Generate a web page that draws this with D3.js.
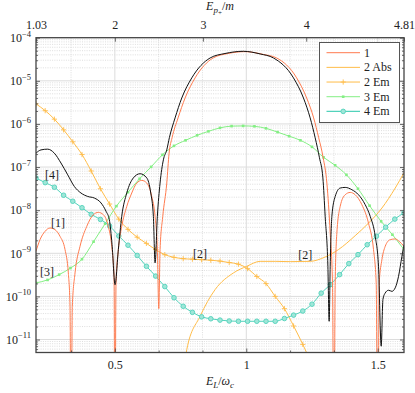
<!DOCTYPE html>
<meta charset="utf-8">
<style>
body { margin: 0; background: #fff; }
text { font-family: "Liberation Serif", "DejaVu Serif", serif; fill: #222; font-size: 12px; }
.grid-major line { stroke: #dcdcdc; stroke-width: 1; }
.grid-minor line { stroke: #c8c8c8; stroke-width: 0.6; stroke-dasharray: 1,1.3; }
.frame { fill: none; stroke: #444; stroke-width: 1.3; }
.axis path { display: none; }
.axis line { stroke: #444; stroke-width: 0.8; }
.curve { fill: none; stroke-width: 1; }
</style>
<svg width="415" height="393"></svg>
<script src="https://d3js.org/d3.v7.min.js"></script>
<script>

var svg = d3.select("svg");

// ---- data (E_L/omega_c, value) ----
var total = [
  [0.2, 2.1e-7], [0.219, 2.5e-7], [0.2445, 2.6e-7], [0.2697, 2.1e-7], [0.295, 1.24e-7],
  [0.3207, 6.6e-8], [0.3458, 3.55e-8], [0.371, 2.5e-8], [0.3968, 2.08e-8], [0.422, 1.91e-8],
  [0.4474, 1.47e-8], [0.4665, 9.4e-9], [0.479, 6.0e-9], [0.4893, 1.6e-9], [0.5007, 1.87e-10],
  [0.5133, 1.22e-9], [0.5262, 7.2e-9], [0.5453, 2.5e-8], [0.5704, 5.6e-8], [0.5959, 7.0e-8],
  [0.6214, 5.6e-8], [0.6366, 2.5e-8], [0.6465, 7.2e-9], [0.653, 6.0e-10], [0.6617, 7.2e-9],
  [0.672, 4.25e-8], [0.6846, 1.47e-7], [0.6975, 2.5e-7], [0.7074, 4.8e-7], [0.7291, 1.38e-6],
  [0.7546, 4.0e-6], [0.7927, 1.17e-5], [0.8624, 3.39e-5], [0.919, 4.3e-5], [0.9891, 4.84e-5],
  [1.0527, 4.2e-5], [1.1033, 3.39e-5], [1.1795, 1.17e-5], [1.2175, 4.0e-6], [1.243, 1.38e-6],
  [1.262, 4.8e-7], [1.2784, 1.64e-7], [1.2914, 5.6e-8], [1.3001, 7.2e-9], [1.3104, 5.0e-10],
  [1.3153, 2.65e-11], [1.3192, 5.0e-10], [1.3256, 7.2e-9], [1.3382, 2.08e-8], [1.3572, 3.26e-8],
  [1.3762, 3.37e-8], [1.4018, 2.98e-8], [1.4269, 2.28e-8], [1.4524, 1.34e-8], [1.4714, 7.2e-9],
  [1.4905, 2.47e-9], [1.503, 5.0e-10], [1.5133, 7.0e-12], [1.5198, 8.5e-11], [1.5285, 1.2e-10],
  [1.5411, 1.39e-10], [1.554, 1.31e-10], [1.5666, 1.58e-10], [1.5792, 2.92e-10], [1.5921, 8.5e-10],
  [1.6, 1.58e-9]
];

var one = [
  [0.2, 1.11e-9], [0.2152, 2.07e-9], [0.2343, 3.22e-9], [0.2533, 3.86e-9], [0.2723, 3.53e-9],
  [0.2914, 2.47e-9], [0.3104, 1.22e-9], [0.323, 3.5e-10], [0.3294, 5.9e-11], [0.3333, 1e-14],
  [0.3382, 5.9e-11], [0.3485, 3.5e-10], [0.3675, 1.45e-9], [0.393, 4.2e-9], [0.4181, 7.85e-9],
  [0.4372, 8.9e-9], [0.4562, 7.85e-9], [0.4752, 4.2e-9], [0.4882, 1.45e-9], [0.4969, 2.9e-10],
  [0.5, 1e-14], [0.5045, 2.06e-10], [0.5133, 1.22e-9], [0.5262, 4.2e-9], [0.5453, 1.22e-8],
  [0.5643, 2.5e-8], [0.5833, 4.25e-8], [0.6024, 4.9e-8], [0.6214, 4.25e-8], [0.6404, 2.08e-8],
  [0.653, 7.2e-9], [0.6617, 1.22e-9], [0.6671, 5.2e-11], [0.672, 1.22e-9], [0.6823, 7.2e-9],
  [0.6975, 4.25e-8], [0.7063, 2.1e-7], [0.7177, 4.8e-7], [0.7405, 1.38e-6], [0.7672, 4.0e-6],
  [0.8053, 1.17e-5], [0.8738, 3.39e-5], [0.9309, 4.3e-5], [0.9956, 4.75e-5], [1.0641, 4.1e-5],
  [1.1155, 3.39e-5], [1.1916, 1.17e-5], [1.2297, 4.0e-6], [1.2563, 1.38e-6], [1.2754, 4.8e-7],
  [1.2925, 1.64e-7], [1.3066, 4.25e-8], [1.3192, 2.96e-9], [1.3279, 2.06e-10], [1.3333, 1e-14],
  [1.3382, 2.06e-10], [1.3446, 2.96e-9], [1.3572, 1.22e-8], [1.3762, 2.28e-8], [1.3953, 2.58e-8],
  [1.4143, 2.28e-8], [1.4398, 1.34e-8], [1.4649, 5.0e-9], [1.484, 1.22e-9], [1.4942, 2.06e-10],
  [1.5, 1e-14], [1.5057, 2.06e-10], [1.516, 7.1e-10], [1.5285, 1.45e-9], [1.5476, 2.07e-9],
  [1.5666, 2.15e-9], [1.5818, 1.89e-9], [1.6, 1.45e-9]
];

var twoAbs = [
  [0.76, 1e-12], [0.7737, 5.9e-12], [0.8243, 3.47e-11], [0.8814, 1.44e-10], [0.951, 3.5e-10],
  [1.0021, 5.0e-10], [1.0527, 6.5e-10], [1.1098, 6.5e-10], [1.1669, 6.4e-10], [1.243, 6.5e-10],
  [1.3001, 8.2e-10], [1.3508, 1.22e-9], [1.4143, 2.56e-9], [1.4649, 5.0e-9], [1.516, 1.12e-8],
  [1.5666, 3.26e-8], [1.6, 7.4e-8]
];

var twoEm = [
  [0.2, 2.92e-6], [0.235, 2.03e-6], [0.27, 1.29e-6], [0.305, 7.3e-7], [0.34, 3.85e-7],
  [0.375, 1.95e-7], [0.41, 8.1e-8], [0.445, 3.14e-8], [0.48, 1.39e-8], [0.515, 6.2e-9],
  [0.55, 3.59e-9], [0.585, 2.36e-9], [0.62, 1.7e-9], [0.655, 1.22e-9], [0.69, 9.3e-10],
  [0.725, 8.05e-10], [0.76, 7.5e-10], [0.795, 7.3e-10], [0.83, 7.1e-10], [0.865, 6.9e-10],
  [0.9, 6.6e-10], [0.935, 6.1e-10], [0.97, 5.6e-10], [1.005, 4.4e-10], [1.04, 2.9e-10],
  [1.075, 1.98e-10], [1.11, 1.0e-10], [1.145, 5.2e-11], [1.18, 2.06e-11], [1.215, 7.7e-12],
  [1.25, 2.6e-12]
];

var threeEm = [
  [0.2, 2.06e-10], [0.244, 2.41e-10], [0.288, 3.2e-10], [0.331, 4.53e-10], [0.375, 7.3e-10],
  [0.419, 1.86e-9], [0.463, 4.86e-9], [0.506, 1.24e-8], [0.55, 2.61e-8], [0.594, 5.35e-8],
  [0.638, 1.01e-7], [0.681, 1.92e-7], [0.725, 3.1e-7], [0.769, 4.17e-7], [0.813, 5.44e-7],
  [0.856, 6.73e-7], [0.9, 8.1e-7], [0.944, 8.9e-7], [0.988, 9.0e-7], [1.031, 8.8e-7],
  [1.075, 7.9e-7], [1.119, 6.46e-7], [1.163, 5.2e-7], [1.206, 4.17e-7], [1.25, 2.94e-7],
  [1.294, 1.68e-7], [1.338, 1.1e-7], [1.381, 6.6e-8], [1.425, 3.14e-8], [1.469, 1.27e-8],
  [1.513, 5.5e-9], [1.556, 2.7e-9], [1.6, 1.22e-9]
];

var fourEm = [
  [0.2, 5.56e-8], [0.235, 4.35e-8], [0.27, 3.4e-8], [0.305, 2.22e-8], [0.34, 1.61e-8],
  [0.375, 1.14e-8], [0.41, 8.0e-9], [0.445, 6.1e-9], [0.48, 4.3e-9], [0.515, 2.52e-9],
  [0.55, 1.54e-9], [0.585, 8.9e-10], [0.62, 5.0e-10], [0.655, 2.96e-10], [0.69, 1.69e-10],
  [0.725, 9.3e-11], [0.76, 5.9e-11], [0.795, 4.27e-11], [0.83, 3.36e-11], [0.865, 3.03e-11],
  [0.9, 2.82e-11], [0.935, 2.69e-11], [0.97, 2.65e-11], [1.005, 2.65e-11], [1.04, 2.65e-11],
  [1.075, 2.65e-11], [1.11, 2.65e-11], [1.145, 3.07e-11], [1.18, 3.68e-11], [1.215, 4.58e-11],
  [1.25, 6.6e-11], [1.285, 1.19e-10], [1.32, 1.88e-10], [1.355, 3.2e-10], [1.39, 5.75e-10],
  [1.425, 9.3e-10], [1.46, 1.58e-9], [1.495, 2.49e-9], [1.53, 4.03e-9], [1.565, 6.2e-9],
  [1.6, 8.7e-9]
];

// top axis: E_p+/m tick values and the E_L/omega_c where they sit
var topTicks = [1.03, 2, 3, 4, 4.81];
var topAt = [0.2, 0.5, 0.835, 1.228, 1.6];

var bottomTicks = [0.5, 1, 1.5];
var bottomMinor = [1/3, 2/3, 5/6, 7/6, 4/3];
var decades = [1e-11, 1e-10, 1e-9, 1e-8, 1e-7, 1e-6, 1e-5, 1e-4];

// annotation labels placed in data coords
var notes = [
  ["[1]", 0.284, 5.1e-9], ["[2]", 0.824, 9.8e-10], ["[2]", 1.224, 9.3e-10],
  ["[3]", 0.242, 3.76e-10], ["[4]", 0.261, 6.6e-8]
];

var legendNames = ["1", "2 Abs", "2 Em", "3 Em", "4 Em"];

var col1 = "#ff7b4f", col2 = "#ffbc48", col3 = "#84ef84", col4 = "#52d2bb";

// ---- scales ----  (note: "top" is reserved on window, so use pT etc.)
var pL = 36, pR = 404, pT = 37.7, pB = 352.5;
var x = d3.scaleLinear().domain([0.2, 1.6]).range([pL, pR]);
var y = d3.scaleLog().domain([5e-12, 1e-4]).range([pB, pT]);
var xTop = d3.scaleLinear().domain(topTicks).range(topAt.map(x));

var yMinor = [];
decades.concat([1e-12]).forEach(function(d) {
  for (var m = 2; m <= 9; m++) {
    var v = m * d;
    if (v > 5e-12 && v < 1e-4) yMinor.push(v);
  }
});

// ---- grid ----
var gMinor = svg.append("g").attr("class", "grid-minor");
gMinor.selectAll(".vy").data(yMinor).enter().append("line")
    .attr("x1", pL).attr("x2", pR)
    .attr("y1", function(d) { return y(d); }).attr("y2", function(d) { return y(d); });
gMinor.selectAll(".vx").data(bottomMinor).enter().append("line")
    .attr("y1", pT).attr("y2", pB)
    .attr("x1", function(d) { return x(d); }).attr("x2", function(d) { return x(d); });

var gMajor = svg.append("g").attr("class", "grid-major");
gMajor.selectAll(".hy").data(decades.slice(0, -1)).enter().append("line")
    .attr("x1", pL).attr("x2", pR)
    .attr("y1", function(d) { return y(d); }).attr("y2", function(d) { return y(d); });
gMajor.selectAll(".hx").data(bottomTicks).enter().append("line")
    .attr("y1", pT).attr("y2", pB)
    .attr("x1", function(d) { return x(d); }).attr("x2", function(d) { return x(d); });

// ---- curves ----
svg.append("clipPath").attr("id", "clip")
  .append("rect").attr("x", pL).attr("y", pT)
  .attr("width", pR - pL).attr("height", pB - pT);

var line = d3.line()
    .x(function(d) { return x(d[0]); })
    .y(function(d) { return y(d[1]); })
    .curve(d3.curveMonotoneX);

var plot = svg.append("g").attr("clip-path", "url(#clip)");

function drawCurve(data, color, width) {
  plot.append("path").datum(data).attr("class", "curve")
      .attr("stroke", color).attr("stroke-width", width).attr("d", line);
}

function plusMark(g, color) {
  g.append("path").attr("d", "M-2.6,0H2.6M0,-2.6V2.6")
      .attr("stroke", color).attr("stroke-width", 0.9).attr("fill", "none");
}
function squareMark(g, color) {
  g.append("rect").attr("x", -1.3).attr("y", -1.3).attr("width", 2.6).attr("height", 2.6)
      .attr("fill", color);
}
function circleMark(g, color) {
  g.append("circle").attr("r", 2.3).attr("fill", "#9fe6d8")
      .attr("stroke", color).attr("stroke-width", 0.9);
}

function drawMarks(data, color, markFn) {
  plot.selectAll(null).data(data).enter().append("g")
      .attr("transform", function(d) { return "translate(" + x(d[0]) + "," + y(d[1]) + ")"; })
      .each(function() { markFn(d3.select(this), color); });
}

drawCurve(twoAbs, col2, 1);
drawCurve(twoEm, col2, 1);
drawMarks(twoEm, col2, plusMark);
drawCurve(threeEm, col3, 1);
drawMarks(threeEm, col3, squareMark);
drawCurve(fourEm, col4, 1.1);
drawMarks(fourEm, col4, circleMark);
drawCurve(one, col1, 1);
drawCurve(total, "#111", 1.2);

// ---- annotations ----
svg.selectAll(".note").data(notes).enter().append("text")
    .attr("x", function(d) { return x(d[1]); })
    .attr("y", function(d) { return y(d[2]) + 4; })
    .attr("text-anchor", "middle")
    .attr("font-size", 11)
    .text(function(d) { return d[0]; });

// ---- axes ----
var axB = svg.append("g").attr("class", "axis").attr("transform", "translate(0," + pB + ")")
    .call(d3.axisBottom(x).tickValues(bottomTicks).tickSizeInner(-4).tickSizeOuter(0)
      .tickPadding(8).tickFormat(d3.format("")));
axB.selectAll("text").attr("font-size", 12).attr("fill", "#222");
svg.append("g").attr("class", "axis").attr("transform", "translate(0," + pB + ")")
    .call(d3.axisBottom(x).tickValues(bottomMinor).tickSizeInner(-2).tickSizeOuter(0).tickFormat(""));

var axT = svg.append("g").attr("class", "axis").attr("transform", "translate(0," + pT + ")")
    .call(d3.axisTop(xTop).tickValues(topTicks).tickSizeInner(-4).tickSizeOuter(0)
      .tickPadding(9).tickFormat(d3.format("")));
axT.selectAll("text").attr("font-size", 12).attr("fill", "#222");

[[pL, -1], [pR, 1]].forEach(function(s) {
  svg.append("g").attr("class", "axis").attr("transform", "translate(" + s[0] + ",0)")
      .call((s[1] < 0 ? d3.axisLeft(y) : d3.axisRight(y)).tickValues(decades)
        .tickSizeInner(-4).tickSizeOuter(0).tickFormat(""));
  svg.append("g").attr("class", "axis").attr("transform", "translate(" + s[0] + ",0)")
      .call((s[1] < 0 ? d3.axisLeft(y) : d3.axisRight(y)).tickValues(yMinor)
        .tickSizeInner(-2).tickSizeOuter(0).tickFormat(""));
});

decades.forEach(function(v) {
  var t = svg.append("text").attr("x", 31).attr("y", y(v) + 4.3).attr("text-anchor", "end");
  t.append("tspan").text("10");
  t.append("tspan").attr("font-size", 8.5).attr("dy", -5.5)
      .text("\u2212" + Math.round(-Math.log10(v)));
});

svg.append("rect").attr("class", "frame")
    .attr("x", pL).attr("y", pT).attr("width", pR - pL).attr("height", pB - pT);

// axis titles
var tt = svg.append("text").attr("x", 220).attr("y", 10).attr("text-anchor", "middle")
    .attr("font-size", 13);
tt.append("tspan").attr("font-style", "italic").text("E");
tt.append("tspan").attr("font-style", "italic").attr("font-size", 9).attr("dy", 3).text("p");
tt.append("tspan").attr("font-size", 7).attr("dy", 1.5).text("+");
tt.append("tspan").attr("dy", -4.5).text("/");
tt.append("tspan").attr("font-style", "italic").text("m");

var bt = svg.append("text").attr("x", 220).attr("y", 385).attr("text-anchor", "middle")
    .attr("font-size", 13);
bt.append("tspan").attr("font-style", "italic").text("E");
bt.append("tspan").attr("font-style", "italic").attr("font-size", 9).attr("dy", 3).text("L");
bt.append("tspan").attr("dy", -3).text("/");
bt.append("tspan").attr("font-style", "italic").text("\u03c9");
bt.append("tspan").attr("font-style", "italic").attr("font-size", 9).attr("dy", 3).text("c");

// ---- legend ----
var lg = svg.append("g").attr("transform", "translate(319.5,42.5)");
lg.append("rect").attr("width", 80).attr("height", 80)
    .attr("fill", "#fff").attr("stroke", "#555").attr("stroke-width", 1);
var legendColors = [col1, col2, col2, col3, col4];
var legendMarks = [null, null, plusMark, squareMark, circleMark];
legendNames.forEach(function(name, i) {
  var row = lg.append("g").attr("transform", "translate(0," + (10.2 + i * 14.67) + ")");
  row.append("line").attr("x1", 7).attr("x2", 40.5)
      .attr("stroke", legendColors[i]).attr("stroke-width", i == 4 ? 1.1 : 1);
  if (legendMarks[i]) legendMarks[i](row.append("g").attr("transform", "translate(23.7,0)"), legendColors[i]);
  row.append("text").attr("x", 44.5).attr("y", 4).attr("font-size", 12).text(name);
});

</script>
